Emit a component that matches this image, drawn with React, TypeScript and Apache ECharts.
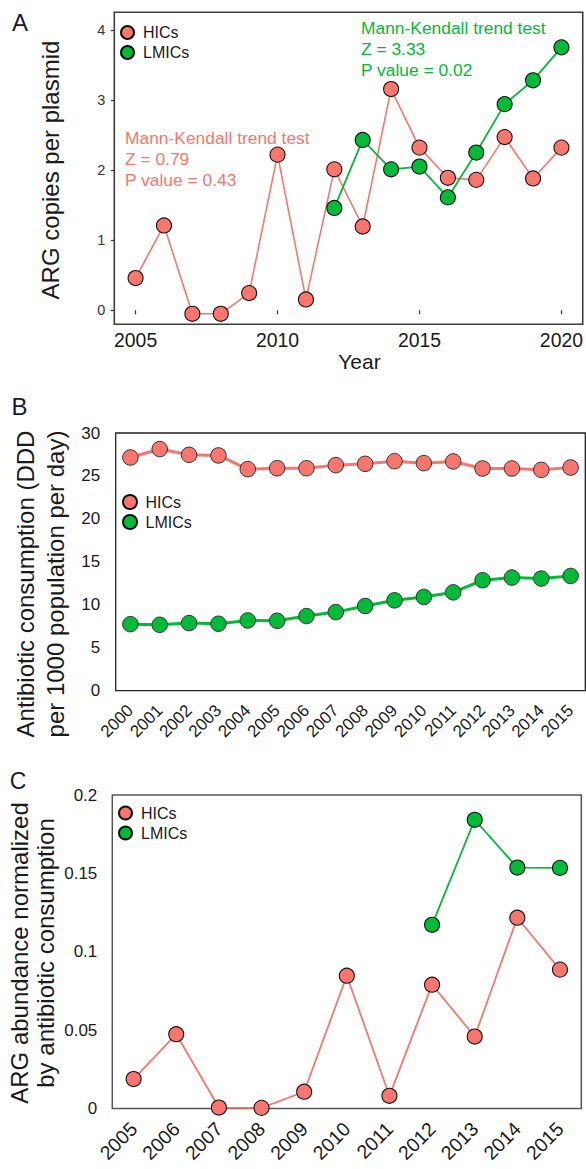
import React, { useEffect, useRef } from "react";
import * as echarts from "echarts";

// ---------- Panel A ----------
const yearsA = [2005, 2006, 2007, 2008, 2009, 2010, 2011, 2012, 2013, 2014, 2015, 2016, 2017, 2018, 2019, 2020];
const hicsA = [0.46, 1.21, -0.05, -0.05, 0.245, 2.22, 0.155, 2.01, 1.195, 3.155, 2.32, 1.89, 1.86, 2.47, 1.88, 2.32];
const lmicsYearsA = [2012, 2013, 2014, 2015, 2016, 2017, 2018, 2019, 2020];
const lmicsA = [1.46, 2.43, 2.01, 2.05, 1.61, 2.25, 2.94, 3.28, 3.75];
const xTicksA = [2005, 2010, 2015, 2020];
const yTicksA = [0, 1, 2, 3, 4];

// ---------- Panel B ----------
const yearsB = ["2000", "2001", "2002", "2003", "2004", "2005", "2006", "2007", "2008", "2009", "2010", "2011", "2012", "2013", "2014", "2015"];
const hicsB = [27.15, 28.13, 27.46, 27.39, 25.79, 25.9, 25.9, 26.26, 26.41, 26.72, 26.49, 26.69, 25.87, 25.87, 25.71, 25.98];
const lmicsB = [7.75, 7.67, 7.87, 7.79, 8.18, 8.14, 8.69, 9.15, 9.86, 10.52, 10.91, 11.45, 12.86, 13.17, 13.05, 13.36];

// ---------- Panel C ----------
const yearsC = ["2005", "2006", "2007", "2008", "2009", "2010", "2011", "2012", "2013", "2014", "2015"];
const hicsC = [0.0188, 0.0474, 0.0006, 0.0004, 0.0107, 0.0847, 0.0081, 0.079, 0.0459, 0.1217, 0.0886];
const lmicsC = [null, null, null, null, null, null, null, 0.1172, 0.1842, 0.1537, 0.1535];

const RED = "#F8766D";
const GREEN = "#00BA38";
const FONT = "'Liberation Sans', Arial, Helvetica, sans-serif";
const TXT = "#1a1a1a";

export default function App() {
  const ref = useRef<HTMLDivElement>(null);

  useEffect(() => {
    if (!ref.current) return;
    const chart = echarts.init(ref.current, undefined, { renderer: "svg" });

    const legendCommon = {
      data: ["HICs", "LMICs"],
      orient: "vertical",
      icon: "circle",
      itemWidth: 21,
      itemHeight: 13,
      itemGap: 4,
      padding: 0,
      selectedMode: false,
      textStyle: { fontSize: 16, color: TXT, fontFamily: FONT },
    };

    const option: any = {
      animation: false,
      textStyle: { fontFamily: FONT },
      grid: [
        { left: 114.3, top: 12.3, width: 470.7, height: 312, show: true, borderColor: "#3d3d3d", borderWidth: 1.6, backgroundColor: "transparent" },
        { left: 115.7, top: 433, width: 469.6, height: 257.7, show: true, borderColor: "#222", borderWidth: 1.3, backgroundColor: "transparent" },
        { left: 112.3, top: 795, width: 469, height: 313.5, show: true, borderColor: "#555", borderWidth: 1.5, backgroundColor: "transparent" },
      ],
      legend: [
        { ...legendCommon, left: 120, top: 24.5 },
        { ...legendCommon, itemHeight: 14, left: 122, top: 494 },
        { ...legendCommon, left: 118, top: 805 },
      ],
      xAxis: [
        {
          gridIndex: 0,
          type: "value",
          min: 2004.25,
          max: 2020.75,
          axisLine: { show: false },
          axisTick: { show: true, customValues: xTicksA, length: 4, lineStyle: { color: "#333", width: 1.2 } },
          axisLabel: { customValues: xTicksA, fontSize: 19.4, color: TXT, margin: 6, formatter: (v: number) => String(v) },
          splitLine: { show: false },
          name: "Year",
          nameLocation: "middle",
          nameGap: 27,
          nameTextStyle: { fontSize: 21, color: TXT, padding: [0, 0, 0, 22] },
        },
        {
          gridIndex: 1,
          type: "category",
          data: yearsB,
          boundaryGap: true,
          axisLine: { show: false },
          axisTick: { show: false },
          axisLabel: { rotate: 45, fontSize: 17, color: TXT, margin: 17, interval: 0 },
          splitLine: { show: false },
        },
        {
          gridIndex: 2,
          type: "category",
          data: yearsC,
          boundaryGap: true,
          axisLine: { show: false },
          axisTick: { show: false },
          axisLabel: { rotate: 45, fontSize: 19.5, color: TXT, margin: 17, interval: 0 },
          splitLine: { show: false },
        },
      ],
      yAxis: [
        {
          gridIndex: 0,
          type: "value",
          min: -0.2,
          max: 4.25,
          axisLine: { show: false },
          axisTick: { show: true, customValues: yTicksA, length: 3.5, lineStyle: { color: "#333", width: 1.2 } },
          axisLabel: { customValues: yTicksA, fontSize: 14.5, color: "#333", margin: 9 },
          splitLine: { show: false },
        },
        {
          gridIndex: 1,
          type: "value",
          min: 0,
          max: 30,
          interval: 5,
          axisLine: { show: false },
          axisTick: { show: false },
          axisLabel: { fontSize: 17, color: TXT, margin: 15.5 },
          splitLine: { show: false },
        },
        {
          gridIndex: 2,
          type: "value",
          min: 0,
          max: 0.2,
          interval: 0.05,
          axisLine: { show: false },
          axisTick: { show: false },
          axisLabel: { fontSize: 17, color: TXT, margin: 15 },
          splitLine: { show: false },
        },
      ],
      series: [
        {
          name: "HICs", type: "line", xAxisIndex: 0, yAxisIndex: 0, z: 2,
          data: yearsA.map((y, i) => [y, hicsA[i]]),
          symbol: "circle", symbolSize: 15,
          lineStyle: { color: RED, width: 1.6 },
          itemStyle: { color: RED, borderColor: "#111", borderWidth: 1.1 },
        },
        {
          name: "LMICs", type: "line", xAxisIndex: 0, yAxisIndex: 0, z: 3,
          data: lmicsYearsA.map((y, i) => [y, lmicsA[i]]),
          symbol: "circle", symbolSize: 15,
          lineStyle: { color: GREEN, width: 1.8 },
          itemStyle: { color: GREEN, borderColor: "#111", borderWidth: 1.1 },
        },
        {
          name: "HICs", type: "line", xAxisIndex: 1, yAxisIndex: 1, z: 2,
          data: hicsB,
          symbol: "circle", symbolSize: 15.5,
          lineStyle: { color: RED, width: 3 },
          itemStyle: { color: RED, borderColor: "#333", borderWidth: 1 },
        },
        {
          name: "LMICs", type: "line", xAxisIndex: 1, yAxisIndex: 1, z: 3,
          data: lmicsB,
          symbol: "circle", symbolSize: 15.5,
          lineStyle: { color: GREEN, width: 3 },
          itemStyle: { color: GREEN, borderColor: "#333", borderWidth: 1 },
        },
        {
          name: "HICs", type: "line", xAxisIndex: 2, yAxisIndex: 2, z: 2,
          data: hicsC,
          symbol: "circle", symbolSize: 15,
          lineStyle: { color: RED, width: 1.8 },
          itemStyle: { color: RED, borderColor: "#111", borderWidth: 1.1 },
        },
        {
          name: "LMICs", type: "line", xAxisIndex: 2, yAxisIndex: 2, z: 3,
          data: lmicsC,
          symbol: "circle", symbolSize: 15,
          lineStyle: { color: GREEN, width: 1.8 },
          itemStyle: { color: GREEN, borderColor: "#111", borderWidth: 1.1 },
        },
      ],
      graphic: [
        // panel letters
        { type: "text", x: 20, y: 22, style: { text: "A", fontSize: 24, fontFamily: FONT, fill: "#1a1a33", textAlign: "center", textVerticalAlign: "middle" } },
        { type: "text", x: 19.5, y: 406.5, style: { text: "B", fontSize: 24, fontFamily: FONT, fill: "#1a1a33", textAlign: "center", textVerticalAlign: "middle" } },
        { type: "text", x: 18, y: 780.5, style: { text: "C", fontSize: 23, fontFamily: FONT, fill: "#1a1a33", textAlign: "center", textVerticalAlign: "middle" } },
        // y axis titles
        { type: "text", x: 50, y: 170, rotation: Math.PI / 2, style: { text: "ARG copies per plasmid", fontSize: 24, fontFamily: FONT, fill: TXT, textAlign: "center", textVerticalAlign: "middle" } },
        { type: "text", x: 40.5, y: 584, rotation: Math.PI / 2, style: { text: "Antibiotic consumption (DDD\nper 1000 population per day)", fontSize: 24, lineHeight: 30, fontFamily: FONT, fill: TXT, textAlign: "center", textVerticalAlign: "middle" } },
        { type: "text", x: 32.7, y: 953, rotation: Math.PI / 2, style: { text: "ARG abundance normalized\nby antibiotic consumption", fontSize: 24, lineHeight: 26, fontFamily: FONT, fill: TXT, textAlign: "center", textVerticalAlign: "middle" } },
        // Mann-Kendall annotations
        { type: "text", x: 125, y: 127.5, style: { text: "Mann-Kendall trend test\nZ = 0.79\nP value = 0.43", fontSize: 17.4, lineHeight: 21, fontFamily: FONT, fill: RED, textAlign: "left", textVerticalAlign: "top" } },
        { type: "text", x: 361, y: 17.8, style: { text: "Mann-Kendall trend test\nZ = 3.33\nP value = 0.02", fontSize: 17.4, lineHeight: 21, fontFamily: FONT, fill: GREEN, textAlign: "left", textVerticalAlign: "top" } },
      ],
    };

    chart.setOption(option);
    return () => chart.dispose();
  }, []);

  return <div ref={ref} style={{ position: "absolute", left: 0, top: 0, width: 586, height: 1169 }} />;
}
